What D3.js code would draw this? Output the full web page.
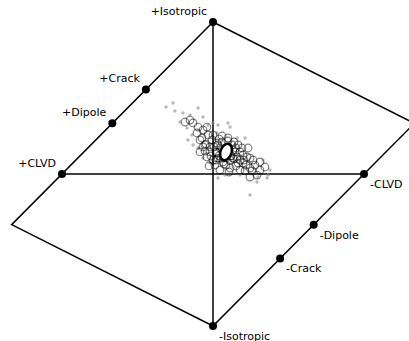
<!DOCTYPE html>
<html>
<head>
<meta charset="utf-8">
<script src="https://cdn.jsdelivr.net/npm/d3@7"></script>
<style>
  html, body { margin: 0; padding: 0; background: #fff; }
  svg { display: block; }
  text { font-family: "DejaVu Sans", sans-serif; font-size: 11px; fill: #000; }
</style>
</head>
<body>
<svg id="chart" width="409" height="341"></svg>
<script>
// Hudson source-type plot in (u, v) coordinates.

// Outline of the skewed diamond
const diamond = [[0, 1], [-4 / 3, -1 / 3], [0, -1], [4 / 3, 1 / 3]];

// Reference source types along the edges
const refNames = ["+Isotropic", "+Crack", "+Dipole", "+CLVD", "-CLVD", "-Dipole", "-Crack", "-Isotropic"];
const refU = [0, -4 / 9, -2 / 3, -1, 1, 2 / 3, 4 / 9, 0];
const refV = [1, 5 / 9, 1 / 3, 0, 0, -1 / 3, -5 / 9, -1];

// Bootstrap solutions (open circles)
const solU = [-0.152, -0.132, -0.066, -0.073, -0.106, -0.053, -0.020, 0.026, 0.099, 0.232,
  0.159, 0.199, 0.245, 0.311, 0.344, 0.113, 0.066, 0.000, -0.040, -0.086,
  -0.066, 0.291, 0.245, 0.179, 0.132, 0.179, 0.146, 0.225, 0.265, 0.311,
  0.026, -0.020, -0.007, 0.060, -0.033, -0.099, -0.185, -0.040, 0.046, 0.126,
  0.152, 0.113, 0.033, 0.013, 0.086, 0.199, 0.060, 0.099, 0.007, -0.053,
  0.166, 0.212, 0.278, 0.046, -0.086, 0.040, 0.070, 0.120, 0.140, 0.106,
  0.033, 0.132, 0.119, 0.053, 0.020, 0.099, 0.139, 0.073, 0.179, 0.219,
  -0.013, -0.046, 0.192, 0.245, 0.152, 0.040, 0.000, 0.258, 0.106, -0.026,
  0.086, 0.166, 0.205, 0.020, 0.060];
const solV = [0.355, 0.336, 0.289, 0.237, 0.270, 0.191, 0.178, 0.204, 0.178, 0.171,
  0.112, 0.072, 0.039, 0.026, 0.046, 0.039, 0.079, 0.092, 0.112, 0.145,
  0.178, -0.007, -0.020, 0.026, 0.105, 0.145, 0.145, 0.112, 0.092, 0.079,
  0.138, 0.145, 0.224, 0.211, 0.257, 0.309, 0.342, 0.309, 0.171, 0.191,
  0.171, 0.092, 0.105, 0.059, 0.059, 0.125, 0.250, 0.237, 0.178, 0.151,
  0.072, 0.020, 0.059, 0.026, 0.224, 0.120, 0.110, 0.120, 0.100, 0.160,
  0.191, 0.158, 0.118, 0.105, 0.145, 0.217, 0.211, 0.066, 0.092, 0.059,
  0.118, 0.197, 0.171, 0.105, 0.053, 0.230, 0.257, 0.020, 0.013, 0.053,
  0.105, 0.191, 0.092, 0.092, 0.158];

// Rejected trial solutions (small grey dots)
const trialU = [-0.311, -0.265, -0.252, -0.199, -0.152, -0.099, -0.219, -0.172, -0.139, -0.166,
  -0.132, -0.066, -0.033, 0.033, 0.099, 0.113, 0.026, 0.033, 0.000, 0.245,
  0.358, 0.364, 0.377, 0.331, 0.298, 0.291, -0.066, -0.099, -0.020, 0.079,
  0.179, 0.212, 0.159, 0.000];
const trialV = [0.441, 0.467, 0.414, 0.401, 0.388, 0.434, 0.342, 0.303, 0.257, 0.224,
  0.191, 0.375, 0.322, 0.322, 0.336, 0.309, 0.270, -0.026, 0.039, -0.138,
  -0.026, -0.007, 0.026, 0.092, -0.020, -0.053, 0.105, 0.171, 0.072, -0.007,
  -0.007, 0.237, 0.237, 0.336];

// Preferred solution
const bestU = [0.086];
const bestV = [0.145];

const svg = d3.select("#chart");
const x = d3.scaleLinear().domain([-1, 1]).range([62, 364]);
const y = d3.scaleLinear().domain([-1, 1]).range([326, 22]);

const line = d3.line().x(d => x(d[0])).y(d => y(d[1]));

// Diamond outline and axes
svg.append("path")
  .attr("d", line(diamond) + "Z")
  .attr("fill", "none").attr("stroke", "#000").attr("stroke-width", 1.5)
  .attr("stroke-linejoin", "miter");
svg.append("path")
  .attr("d", line([[-1, 0], [1, 0]]))
  .attr("fill", "none").attr("stroke", "#000").attr("stroke-width", 1.5);
svg.append("path")
  .attr("d", line([[0, 1], [0, -1]]))
  .attr("fill", "none").attr("stroke", "#000").attr("stroke-width", 1.5);

// Trial dots
svg.append("g").selectAll("circle")
  .data(trialU.map((u, i) => [u, trialV[i]]))
  .join("circle")
  .attr("cx", d => x(d[0])).attr("cy", d => y(d[1]))
  .attr("r", 1.7)
  .attr("fill", "#888").attr("fill-opacity", 0.6);

// Bootstrap circles
svg.append("g").selectAll("circle")
  .data(solU.map((u, i) => [u, solV[i]]))
  .join("circle")
  .attr("cx", d => x(d[0])).attr("cy", d => y(d[1]))
  .attr("r", 3.8)
  .attr("fill", "none")
  .attr("stroke", "#000").attr("stroke-opacity", 0.5).attr("stroke-width", 1.2);

// Preferred solution
svg.append("g").selectAll("ellipse")
  .data(bestU.map((u, i) => [u, bestV[i]]))
  .join("ellipse")
  .attr("transform", d => `translate(${x(d[0])},${y(d[1])}) rotate(20)`)
  .attr("rx", 5.5).attr("ry", 8.5)
  .attr("fill", "#fff").attr("stroke", "#000").attr("stroke-width", 2.5);

// Reference points and labels
const refs = refNames.map((n, i) => ({ name: n, u: refU[i], v: refV[i] }));
svg.append("g").selectAll("circle")
  .data(refs)
  .join("circle")
  .attr("cx", d => x(d.u)).attr("cy", d => y(d.v))
  .attr("r", 4).attr("fill", "#000");

svg.append("g").selectAll("text")
  .data(refs)
  .join("text")
  .attr("x", d => x(d.u) + (d.name[0] === "+" ? -6 : 6))
  .attr("y", d => y(d.v) + (d.name[0] === "+" ? -11 : 10))
  .attr("dy", "0.35em")
  .attr("text-anchor", d => d.name[0] === "+" ? "end" : "start")
  .text(d => d.name);
</script>
</body>
</html>
